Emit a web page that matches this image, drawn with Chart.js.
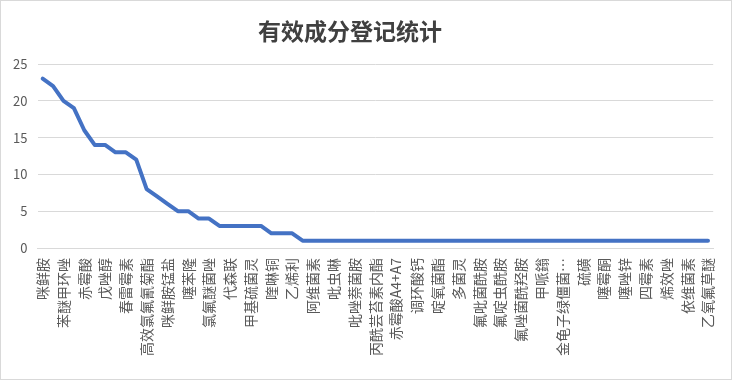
<!DOCTYPE html>
<html>
<head>
<meta charset="utf-8">
<script src="https://cdn.jsdelivr.net/npm/chart.js@4.4.1/dist/chart.umd.min.js"></script>
<style>
  html, body { margin: 0; padding: 0; background: #fff; }
  #wrap { width: 732px; height: 380px; box-sizing: border-box; border: 1px solid #d9d9d9; position: relative; }
  canvas { display: block; }
</style>
</head>
<body>
<div id="wrap"><canvas id="c"></canvas></div>
<script>
const chartTitle = "有效成分登记统计";

// Every other category label is shown in the reference; hidden ones are left blank.
const categories = [
  "咪鲜胺", "", "苯醚甲环唑", "", "赤霉酸", "", "戊唑醇", "", "春雷霉素", "",
  "高效氯氟氰菊酯", "", "咪鲜胺锰盐", "", "噻苯隆", "", "氯氟醚菌唑", "", "代森联", "",
  "甲基硫菌灵", "", "喹啉铜", "", "乙烯利", "", "阿维菌素", "", "吡虫啉", "",
  "吡唑萘菌胺", "", "丙酰芸苔素内酯", "", "赤霉酸A4+A7", "", "调环酸钙", "", "啶氧菌酯", "",
  "多菌灵", "", "氟吡菌酰胺", "", "氟啶虫酰胺", "", "氟唑菌酰羟胺", "", "甲哌鎓", "",
  "金龟子绿僵菌…", "", "硫磺", "", "噻霉酮", "", "噻唑锌", "", "四霉素", "",
  "烯效唑", "", "依维菌素", "", "乙氧氟草醚"
];

const counts = [
  23, 22, 20, 19, 16, 14, 14, 13, 13, 12,
  8, 7, 6, 5, 5, 4, 4, 3, 3, 3,
  3, 3, 2, 2, 2, 1, 1, 1, 1, 1,
  1, 1, 1, 1, 1, 1, 1, 1, 1, 1,
  1, 1, 1, 1, 1, 1, 1, 1, 1, 1,
  1, 1, 1, 1, 1, 1, 1, 1, 1, 1,
  1, 1, 1, 1, 1
];

const yTicks = { min: 0, max: 25, step: 5 };

const FONT = "'Noto Sans CJK SC', 'Noto Sans', sans-serif";
const TXT = "#595959";
const GRID = "#d9d9d9";

// shift the title slightly left, as in the reference
const titleShift = {
  id: "titleShift",
  afterLayout(chart) {
    const t = chart.titleBlock;
    if (t) { t.left -= 10; t.right -= 10; }
  }
};

new Chart(document.getElementById("c"), {
  type: "line",
  data: {
    labels: categories,
    datasets: [{
      label: "数量",
      data: counts,
      borderColor: "#4472C4",
      backgroundColor: "#4472C4",
      borderWidth: 4,
      pointRadius: 0,
      tension: 0,
      fill: false,
      borderJoinStyle: "round",
      borderCapStyle: "round"
    }]
  },
  plugins: [titleShift],
  options: {
    responsive: true,
    maintainAspectRatio: false,
    animation: false,
    layout: { padding: { left: 6, right: 17.8, top: 0, bottom: 23 } },
    plugins: {
      legend: { display: false },
      tooltip: { enabled: false },
      title: {
        display: true,
        text: chartTitle,
        color: "#404040",
        font: { family: FONT, size: 23, weight: "bold" },
        padding: { top: 16, bottom: 19.4 }
      }
    },
    scales: {
      x: {
        offset: true,
        grid: { display: false },
        border: { display: true, color: GRID, width: 1 },
        ticks: {
          autoSkip: false,
          maxRotation: 90,
          minRotation: 90,
          color: TXT,
          padding: 2,
          font: { family: FONT, size: 14 }
        },
        afterFit(s) { s.height = 108; s.paddingLeft = 0; s.paddingRight = 0; }
      },
      y: {
        min: yTicks.min,
        max: yTicks.max,
        grid: { color: GRID, lineWidth: 1, drawTicks: false },
        border: { display: false },
        ticks: {
          stepSize: yTicks.step,
          color: TXT,
          padding: 10,
          font: { family: FONT, size: 13 }
        },
        afterFit(s) { s.width = 30.5; }
      }
    }
  }
});
</script>
</body>
</html>
